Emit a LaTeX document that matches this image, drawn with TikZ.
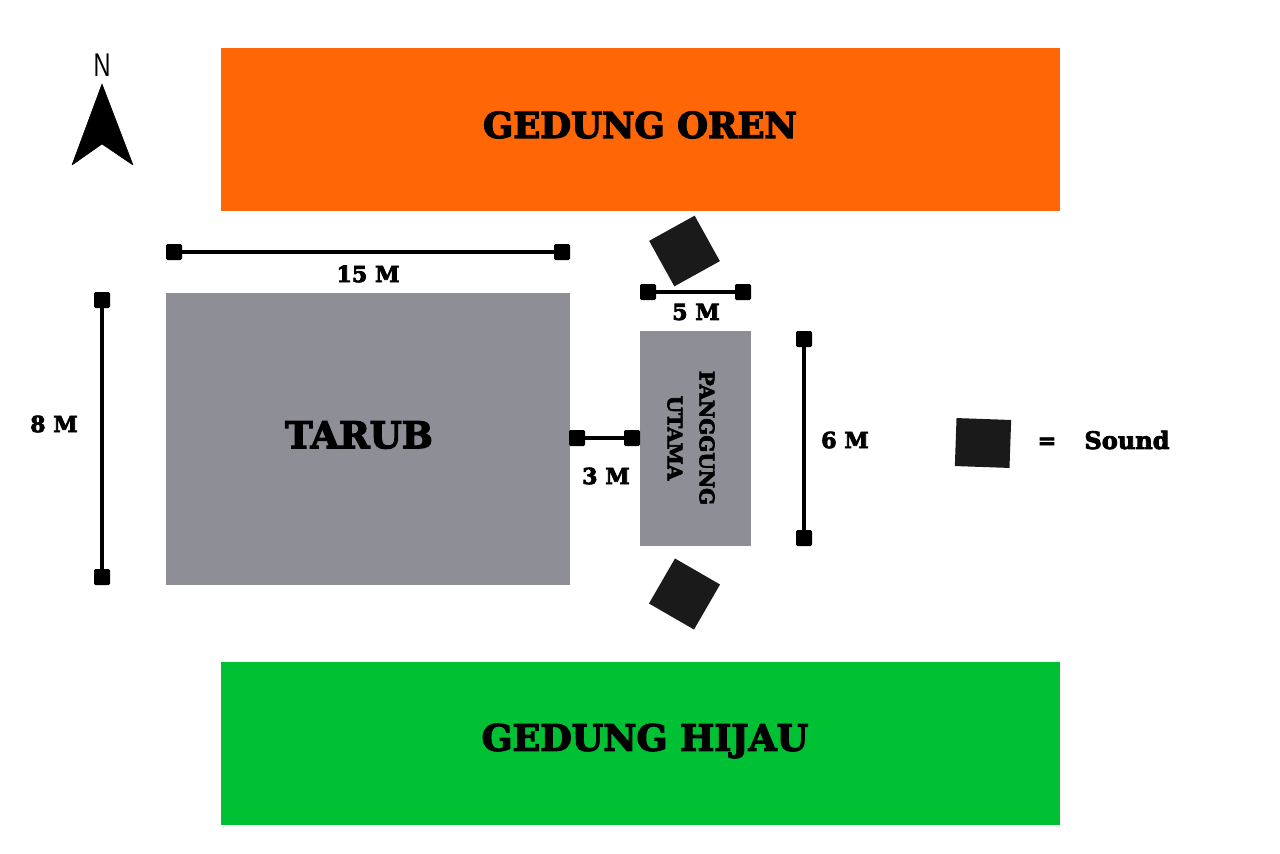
\documentclass[tikz,border=0pt]{standalone}
\usepackage[svgnames]{xcolor}
\usepackage{fontspec}
\newfontfamily\slabfont[BoldFont={DejaVu Serif Bold},BoldFeatures={FakeBold=3.5}]{DejaVu Serif}
\newfontfamily\northfont{Liberation Sans}
\definecolor{oren}{HTML}{FF6605}
\definecolor{hijau}{HTML}{00C133}
\definecolor{abu}{HTML}{8E8E96}
\definecolor{hitam}{HTML}{1A1A1A}
\begin{document}
\begin{tikzpicture}[x=0.75pt,y=-0.75pt,
      every node/.append style={font=\slabfont\bfseries,text=black},
      block/.style={inner sep=0pt,minimum width=#1},
      tip/.style={fill=black,rounded corners=1pt,inner sep=0pt,minimum size=12pt},
      dimline/.style={line width=3pt,black},
      speaker/.style={fill=hitam,inner sep=0pt,minimum size=39pt}]
    \tikzstyle{dimtext} = [font=\slabfont\bfseries\fontsize{16.6}{18}\selectfont]
    \tikzstyle{bigtext} = [font=\slabfont\bfseries\fontsize{26.6}{30}\selectfont]
    \useasboundingbox (0,0) rectangle (1280,853);
    \fill[white] (0,0) rectangle (1280,853);
    \node (oren) [block=629.25pt,minimum height=122.25pt,fill=oren] at (640.5,129.5) {};
    \node (oren_text) [bigtext] at (640,125) {GEDUNG OREN};
    \node (hijau) [block=629.25pt,minimum height=122.25pt,fill=hijau] at (640.5,743.5) {};
    \node (hijau_text) [bigtext,font=\slabfont\bfseries\fontsize{27.2}{30}\selectfont] at (645,741) {GEDUNG HIJAU};
    \node (tarub) [block=303pt,minimum height=219pt,fill=abu] at (368,439) {};
    \node (tarub_text) [font=\slabfont\bfseries\fontsize{27.6}{30}\selectfont] at (359,435) {TARUB};
    \node (panggung) [block=83.25pt,minimum height=161.25pt,fill=abu] at (695.5,438.5) {};
    \node (panggung_text) [rotate=-90,align=center,font=\slabfont\bfseries\fontsize{15}{24}\selectfont] at (691,438) {PANGGUNG\\UTAMA};
    % north arrow
    \node (north) [font=\northfont\fontsize{22}{24}\selectfont,inner sep=0pt,xscale=0.8,yscale=1.12] at (102,65) {N};
    \fill[black,line join=round,draw=black] (102,84) -- (133,165) -- (102,144) -- (72,165) -- cycle;
    % sound
    \node (sound_top) [speaker,rotate=29] at (684.5,251) {};
    \node (sound_bottom) [speaker,rotate=-30] at (684.5,594) {};
    \node (sound_key) [speaker,minimum width=41pt,minimum height=36pt,rotate=-2] at (983,443) {};
    \node (equals) [dimtext] at (1047,443) {=};
    \node (sound_text) [dimtext,font=\slabfont\bfseries\fontsize{18}{20}\selectfont] at (1127,440) {Sound};
    % dimensions
    \node (a1) [tip] at (174,252) {};
    \node (a2) [tip] at (562,252) {};
    \draw[dimline] (a1) -- (a2);
    \node (a_text) [dimtext] at (368,274) {15 M};
    \node (b1) [tip] at (102,300) {};
    \node (b2) [tip] at (102,577) {};
    \draw[dimline] (b1) -- (b2);
    \node (b_text) [dimtext] at (54,424) {8 M};
    \node (c1) [tip] at (648,292) {};
    \node (c2) [tip] at (743,292) {};
    \draw[dimline,line width=2.6pt] (c1) -- (c2);
    \node (c_text) [dimtext] at (696,312) {5 M};
    \node (d1) [tip] at (577,438) {};
    \node (d2) [tip] at (632,438) {};
    \draw[dimline] (d1) -- (d2);
    \node (d_text) [dimtext] at (606,476) {3 M};
    \node (e1) [tip] at (804,339) {};
    \node (e2) [tip] at (804,538) {};
    \draw[dimline] (e1) -- (e2);
    \node (e_text) [dimtext] at (845,440) {6 M};
  \end{tikzpicture}
\end{document}
